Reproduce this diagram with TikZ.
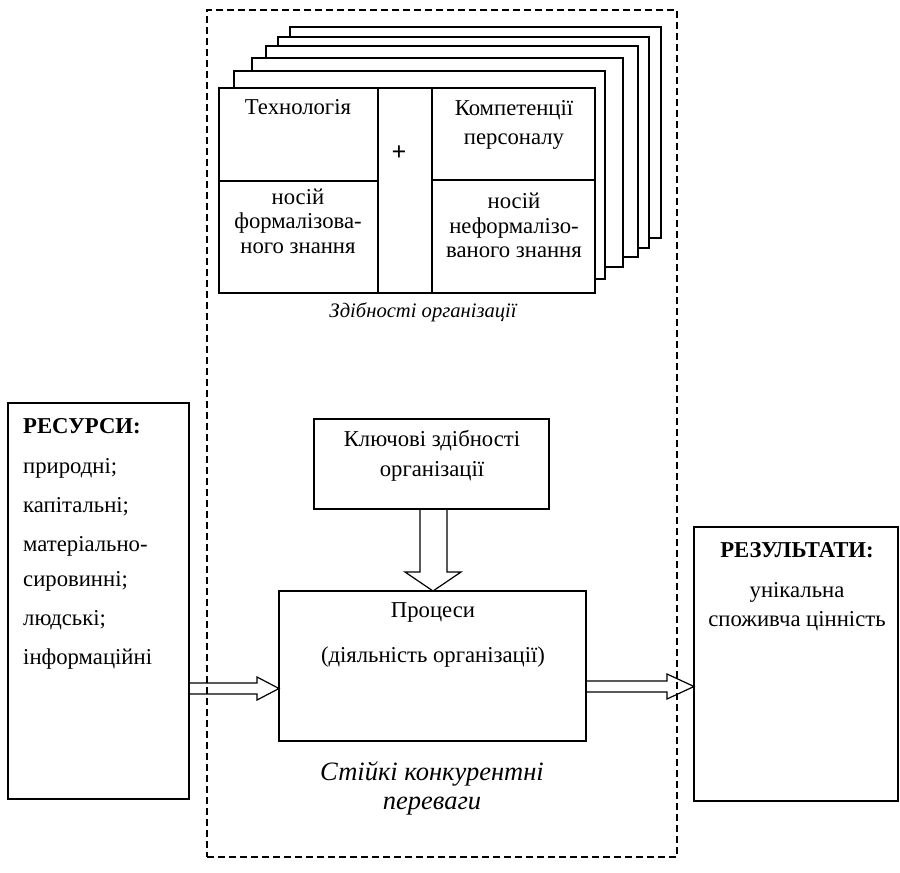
\documentclass[tikz,border=0pt]{standalone}
\usepackage{fontspec}
\setmainfont{Liberation Serif}
\usetikzlibrary{calc}
\begin{document}
\begin{tikzpicture}[x=1pt,y=-1pt,
  box/.style={draw, line width=1.2pt, fill=white, inner sep=0pt, outer sep=0pt},
  frame/.style={draw, line width=1.2pt, dash pattern=on 7pt off 4pt, inner sep=0pt, outer sep=0pt},
  txt/.style={font=\fontsize{22.7}{29}\selectfont, inner sep=0pt, align=center},
  txtl/.style={font=\fontsize{22.7}{24}\selectfont, inner sep=0pt, anchor=base west},
  tight/.style={font=\fontsize{22.7}{24.5}\selectfont},
  blk/.style={draw, line width=1.2pt, line join=miter},
]
\useasboundingbox (0,0) rectangle (900,873);

% dashed frame
\node[frame, minimum width=470pt, minimum height=847pt] (frm) at (442,433.5) {};

% stacked layers
\node[box, minimum width=371pt, minimum height=211pt] (l5) at (475.5,132.5) {};
\node[box, minimum width=371pt, minimum height=211pt] (l4) at (463.5,142.5) {};
\node[box, minimum width=372pt, minimum height=211pt] (l3) at (452,151.5) {};
\node[box, minimum width=371pt, minimum height=209pt] (l2) at (437.5,162.5) {};
\node[box, minimum width=371pt, minimum height=208pt] (l1) at (419.5,175) {};

% front layer cells
\node[box, minimum width=159pt, minimum height=93pt] (tl) at (298.5,134.5) {};
\node[box, minimum width=159pt, minimum height=112pt] (bl) at (298.5,237) {};
\node[box, minimum width=54pt, minimum height=205pt] (mid) at (405,190.5) {};
\node[box, minimum width=163pt, minimum height=92pt] (tr) at (513.5,134) {};
\node[box, minimum width=163pt, minimum height=113pt] (br) at (513.5,236.5) {};

\node[txt] (t1) at (298,107.5) {Технологія};
\node[txt, tight] (t2) at (298,221) {носій\\формалізова-\\ного знання};
\node[txt] (t3) at (514,124.5) {Компетенції\\персоналу};
\node[txt, tight] (t4) at (514,225.5) {носій\\неформалізо-\\ваного знання};
\node[txt, font=\fontsize{26}{28}\selectfont\bfseries] (plus) at (399,153) {+};
\node[txt, font=\fontsize{20.6}{24}\selectfont\itshape] (cap) at (423,312.5) {Здібності організації};

% resources
\node[box, minimum width=181pt, minimum height=396pt] (res) at (98.5,601) {};
\node[txtl, font=\fontsize{22.7}{24}\selectfont\bfseries] (r1) at (23,433) {РЕСУРСИ:};
\node[txtl] (r2) at (23,473) {природні;};
\node[txtl] (r3) at (23,512) {капітальні;};
\node[txtl] (r4) at (23,551) {матеріально-};
\node[txtl] (r5) at (23,586) {сировинні;};
\node[txtl] (r6) at (23,625) {людські;};
\node[txtl] (r7) at (23,664) {інформаційні};

% key capabilities
\node[box, minimum width=235pt, minimum height=90pt] (key) at (431.5,464) {};
\node[txt, font=\fontsize{22.7}{30}\selectfont] (keyt) at (432,456) {Ключові здібності\\організації};

% processes
\node[box, minimum width=307pt, minimum height=150pt] (proc) at (432.5,666) {};
\node[txt] (p1) at (433,612) {Процеси};
\node[txt] (p2) at (433,657) {(діяльність організації)};

% results
\node[box, minimum width=204pt, minimum height=274pt] (resl) at (796,664) {};
\node[txt, font=\fontsize{22.7}{24}\selectfont\bfseries] (q1) at (797,550) {РЕЗУЛЬТАТИ:};
\node[txt] (q2) at (797,606.5) {унікальна\\споживча цінність};

% sustainable advantages
\node[txt, font=\fontsize{26.5}{29}\selectfont\itshape] (adv) at (432,788) {Стійкі конкурентні\\переваги};

% block arrows
\draw[blk] (key.south -| 420,0) -- (420,572) -- (405,572) -- (proc.north -| 433,0)
  -- (461,572) -- (447,572) -- (key.south -| 447,0);
\draw[blk] (res.east |- 0,683) -- (257,683) -- (257,677) -- (proc.west |- 0,688.5)
  -- (257,700) -- (257,694) -- (res.east |- 0,694);
\draw[blk] (proc.east |- 0,681) -- (667,681) -- (667,674) -- (resl.west |- 0,686.5)
  -- (667,699) -- (667,692) -- (proc.east |- 0,692);
\end{tikzpicture}
\end{document}
